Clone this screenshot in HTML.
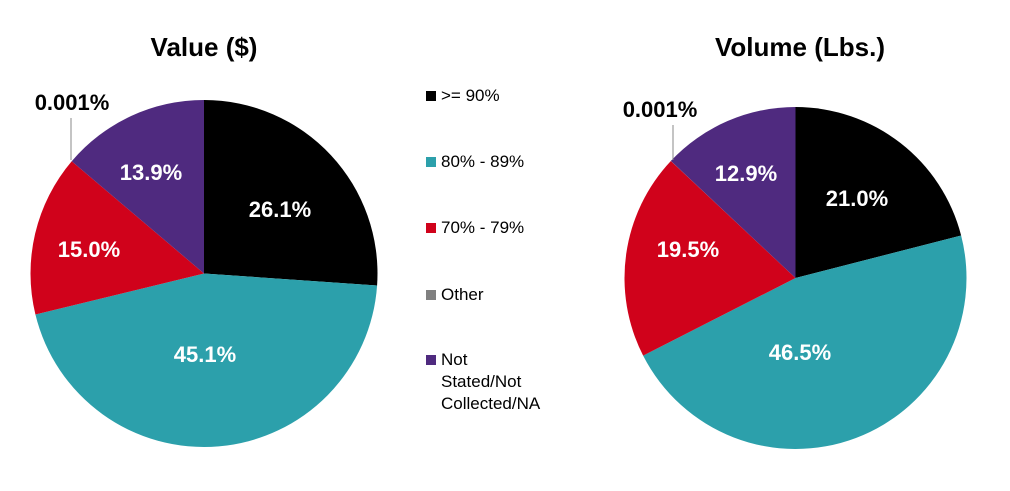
<!DOCTYPE html>
<html><head><meta charset="utf-8"><style>
body{margin:0;background:#fff;width:1010px;height:486px;overflow:hidden;font-family:"Liberation Sans",sans-serif}
</style></head><body>
<svg id="s" width="1010" height="486" xmlns="http://www.w3.org/2000/svg" font-family="Liberation Sans, sans-serif">
<text x="204" y="56" font-size="26" font-weight="bold" text-anchor="middle">Value ($)</text>
<text x="800" y="56" font-size="26" font-weight="bold" text-anchor="middle">Volume (Lbs.)</text>
<g id="p1"></g><g id="p2"></g>
<line x1="71" y1="160" x2="71" y2="118" stroke="#888" stroke-width="1"/>
<line x1="673" y1="160" x2="673" y2="125" stroke="#888" stroke-width="1"/>
<text x="72" y="110" font-size="22" font-weight="bold" text-anchor="middle">0.001%</text>
<text x="660" y="117" font-size="22" font-weight="bold" text-anchor="middle">0.001%</text>
<g font-size="22" font-weight="bold" fill="#fff" text-anchor="middle">
<text x="280" y="217">26.1%</text>
<text x="205" y="362">45.1%</text>
<text x="89" y="257">15.0%</text>
<text x="151" y="180">13.9%</text>
<text x="857" y="206">21.0%</text>
<text x="800" y="360">46.5%</text>
<text x="688" y="257">19.5%</text>
<text x="746" y="181">12.9%</text>
</g>
<g font-size="17">
<rect x="426" y="91" width="10" height="10" fill="#000"/><text x="441" y="101">&gt;= 90%</text>
<rect x="426" y="157" width="10" height="10" fill="#2ca0ab"/><text x="441" y="167">80% - 89%</text>
<rect x="426" y="223" width="10" height="10" fill="#d0021b"/><text x="441" y="233">70% - 79%</text>
<rect x="426" y="290" width="10" height="10" fill="#808080"/><text x="441" y="300">Other</text>
<rect x="426" y="355" width="10" height="10" fill="#4f2a7f"/><text x="441" y="365">Not</text>
<text x="441" y="387">Stated/Not</text><text x="441" y="409">Collected/NA</text>
</g>
</svg>
<script>
function pie(id,cx,cy,r,vals){
 var cols=["#000","#2ca0ab","#d0021b","#808080","#4f2a7f"],a=0,g=document.getElementById(id),h="";
 vals.forEach(function(v,i){var a2=a+v/100*2*Math.PI;
  var x1=cx+r*Math.sin(a),y1=cy-r*Math.cos(a),x2=cx+r*Math.sin(a2),y2=cy-r*Math.cos(a2);
  h+='<path d="M'+cx+' '+cy+' L'+x1+' '+y1+' A'+r+' '+r+' 0 '+((a2-a)>Math.PI?1:0)+' 1 '+x2+' '+y2+' Z" fill="'+cols[i]+'"/>';a=a2;});
 g.innerHTML=h;}
pie("p1",204,273.5,173.5,[26.1,45.1,15.0,0.001,13.799]);
pie("p2",795.5,278,171,[21.0,46.5,19.5,0.001,12.999]);
</script>
</body></html>
